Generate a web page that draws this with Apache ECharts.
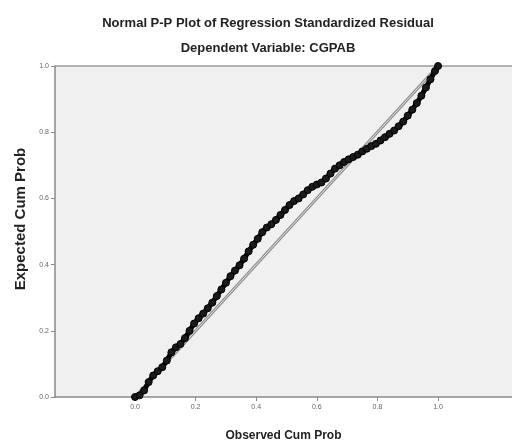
<!DOCTYPE html>
<html>
<head>
<meta charset="utf-8">
<script src="https://cdn.jsdelivr.net/npm/echarts@6/dist/echarts.min.js"></script>
<style>html,body{margin:0;padding:0;background:#fff}#c{width:512px;height:442px}</style>
</head>
<body>
<div id="c"></div>
<script>
// Observed cumulative probability (x) and expected cumulative probability (y)
var observed = [0.000,0.015,0.030,0.045,0.060,0.075,0.090,0.105,0.120,0.135,0.150,0.165,0.180,0.195,0.210,0.225,0.240,0.255,0.270,0.285,0.300,0.315,0.330,0.345,0.360,0.375,0.390,0.405,0.420,0.435,0.450,0.465,0.480,0.495,0.510,0.525,0.540,0.555,0.570,0.585,0.600,0.615,0.630,0.645,0.660,0.675,0.690,0.705,0.720,0.735,0.750,0.765,0.780,0.795,0.810,0.825,0.840,0.855,0.870,0.885,0.900,0.915,0.930,0.945,0.960,0.975,0.990,1.000];
var expected = [0.000,0.005,0.020,0.045,0.065,0.078,0.090,0.110,0.135,0.150,0.160,0.178,0.200,0.222,0.238,0.252,0.268,0.285,0.305,0.325,0.345,0.365,0.382,0.398,0.418,0.440,0.460,0.478,0.498,0.512,0.522,0.535,0.550,0.565,0.580,0.592,0.600,0.612,0.625,0.635,0.642,0.648,0.660,0.675,0.690,0.700,0.710,0.718,0.725,0.732,0.742,0.750,0.758,0.765,0.775,0.785,0.795,0.805,0.818,0.832,0.850,0.868,0.888,0.910,0.935,0.960,0.985,1.000];
var refX = [0, 1];
var refY = [0, 1];
var xTicks = [0.0, 0.2, 0.4, 0.6, 0.8, 1.0];
var yTicks = [0.0, 0.2, 0.4, 0.6, 0.8, 1.0];

var pts = observed.map(function (v, i) { return [v, expected[i]]; });
var ref = refX.map(function (v, i) { return [v, refY[i]]; });
var font = '"Liberation Sans", Arial, sans-serif';

var chart = echarts.init(document.getElementById('c'), null, {renderer: 'canvas'});
chart.setOption({
  animation: false,
  backgroundColor: '#ffffff',
  title: [
    {text: 'Normal P-P Plot of Regression Standardized Residual', left: 263, textAlign: 'center', top: 12,
     textStyle: {fontFamily: font, fontSize: 13, fontWeight: 'bold', color: '#222'}},
    {text: 'Dependent Variable: CGPAB', left: 263, textAlign: 'center', top: 37,
     textStyle: {fontFamily: font, fontSize: 13, fontWeight: 'bold', color: '#222'}}
  ],
  graphic: [{
    type: 'text', x: 21, y: 219, rotation: Math.PI / 2,
    style: {text: 'Expected Cum Prob', font: 'bold 15px ' + font, fill: '#222',
      textAlign: 'center', textVerticalAlign: 'middle'}
  }],
  grid: {left: 55, right: 0, top: 66, bottom: 45, outerBoundsMode: 'none', containLabel: false,
    show: true, backgroundColor: '#f0f0f0', borderWidth: 0},
  xAxis: [{
    type: 'value', min: -0.264, max: 1.244,
    name: 'Observed Cum Prob', nameLocation: 'middle', nameGap: 33,
    nameTextStyle: {fontFamily: font, fontSize: 12, fontWeight: 'bold', color: '#222'},
    axisLine: {show: true, onZero: false, lineStyle: {color: '#8a8a8a', width: 1.5}},
    axisTick: {show: true, customValues: xTicks, length: 4, lineStyle: {color: '#8a8a8a'}},
    axisLabel: {customValues: xTicks, margin: 7, fontFamily: font, fontSize: 7, color: '#666',
      formatter: function (v) { return v.toFixed(1); }},
    splitLine: {show: false}
  }, {
    type: 'value', position: 'top', min: -0.264, max: 1.244,
    axisLine: {show: true, onZero: false, lineStyle: {color: '#9a9a9a', width: 1.5}},
    axisTick: {show: false}, axisLabel: {show: false}, splitLine: {show: false}
  }],
  yAxis: {
    type: 'value', min: 0, max: 1, interval: 0.2, position: 'left',
    axisLine: {show: true, onZero: false, lineStyle: {color: '#8a8a8a', width: 1.5}},
    axisTick: {show: true, length: 4, lineStyle: {color: '#8a8a8a'}},
    axisLabel: {margin: 6, fontFamily: font, fontSize: 7, color: '#666',
      formatter: function (v) { return v.toFixed(1); }},
    splitLine: {show: false}
  },
  series: [
    {type: 'line', data: ref, symbol: 'none', silent: true, z: 1,
     lineStyle: {color: '#8a8a8a', width: 3}},
    {type: 'line', data: ref, symbol: 'none', silent: true, z: 2,
     lineStyle: {color: '#e8e8e8', width: 1}},
    {type: 'line', data: pts, symbol: 'circle', symbolSize: 7, z: 3,
     itemStyle: {color: '#1a1a1a', borderColor: '#000', borderWidth: 1},
     lineStyle: {color: '#000', width: 5, cap: 'round', join: 'round'}}
  ]
});
</script>
</body>
</html>
